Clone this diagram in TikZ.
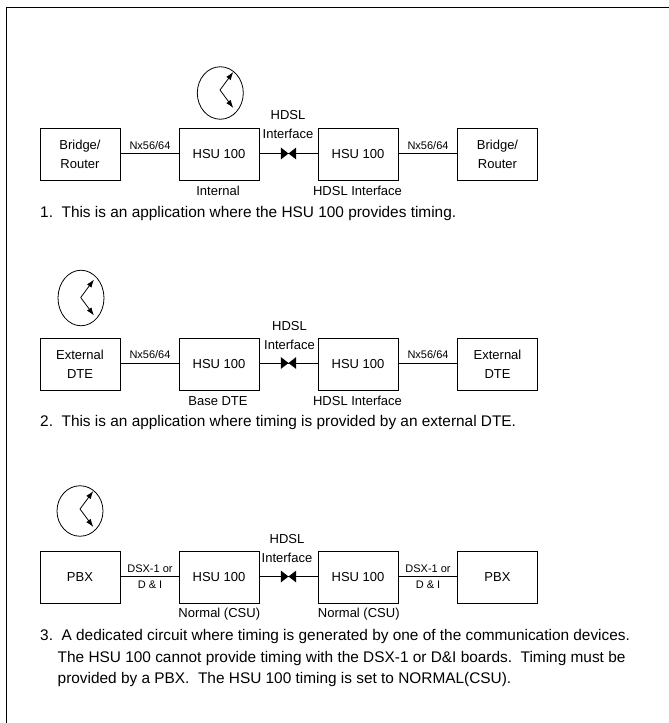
\documentclass[tikz,border=0pt]{standalone}
\usepackage{fontspec}
\setmainfont{Liberation Sans}
\usetikzlibrary{arrows.meta,shapes.geometric}
% ring x, ring y, ring height, pivot x, pivot y, name
\newcommand{\timeclock}[6]{%
  \node[clockring,minimum height=#3pt] (#6) at (#1,#2) {};
  \coordinate (#6p) at (#4,#5);
  \coordinate (#6a) at (#4+13.3,#5-18);
  \coordinate (#6b) at (#4+13.3,#5+18);
  \draw[clockhand] (#6p) -- (#6a);
  \draw[clockhand] (#6p) -- (#6b);
}
% y, left text, right text, name
\newcommand{\hdslrow}[4]{%
  \node[devbox] (#4a) at (80,#1) {#2};
  \node[hsubox] (#4b) at (219,#1) {HSU 100};
  \node[hsubox] (#4c) at (358,#1) {HSU 100};
  \node[devbox] (#4d) at (497.5,#1) {#3};
  \coordinate (#4m) at (288.5,#1-1);
  \draw[conn] (#4a.east |- #4m) -- (#4b.west |- #4m);
  \draw[conn] (#4c.east |- #4m) -- (#4d.west |- #4m);
  \draw[conn] (#4b.east |- #4m) -- (#4c.west |- #4m);
  \fill ([xshift=-7.7pt,yshift=-6pt]#4m) -- (#4m) -- ([xshift=-7.7pt,yshift=6pt]#4m) -- cycle;
  \fill ([xshift=7.7pt,yshift=-6pt]#4m) -- (#4m) -- ([xshift=7.7pt,yshift=6pt]#4m) -- cycle;
}
\begin{document}
\begin{tikzpicture}[x=1pt,y=-1pt,
  devbox/.style={draw,line width=.8pt,minimum width=80pt,minimum height=52pt,inner sep=0pt,align=center,font=\fontsize{13}{19}\selectfont},
  hsubox/.style={devbox},
  lbl/.style={font=\fontsize{13}{19}\selectfont,inner sep=0pt,align=center},
  linklbl/.style={font=\fontsize{11}{15.3}\selectfont,inner sep=0pt,align=center},
  para/.style={font=\fontsize{15.4}{18}\selectfont,inner sep=0pt,anchor=west},
  conn/.style={line width=.8pt},
  clockring/.style={draw,line width=.8pt,ellipse,minimum width=46pt,inner sep=0pt},
  clockhand/.style={line width=.8pt,-{Latex[length=8pt,width=5.5pt]}}]
\useasboundingbox (0,0) rectangle (669,723);
\draw[line width=1pt] (6,723) -- (6,7.5) -- (669,7.5);
% row 1
\timeclock{220.3}{93}{52.5}{220}{90}{ca}
\hdslrow{154.5}{Bridge/\\Router}{Bridge/\\Router}{r}
\node[lbl] (ru) at (218,191) {Internal};
\node[lbl] (rv) at (357.5,191) {HDSL Interface};
\node[linklbl] (rl) at (150,145.5) {Nx56/64};
\node[linklbl] (rr) at (428,145.5) {Nx56/64};
\node[lbl] (rh) at (288,124.5) {HDSL\\Interface};
\node[para] (t1) at (40,214) {1.\ \ This is an application where the HSU 100 provides timing.};
% row 2
\timeclock{81}{298}{55.5}{80.7}{297.5}{cb}
\hdslrow{364}{External\\DTE}{External\\DTE}{s}
\node[lbl] (su) at (218,401) {Base DTE};
\node[lbl] (sv) at (357.5,401) {HDSL Interface};
\node[linklbl] (sl) at (150,355) {Nx56/64};
\node[linklbl] (sr) at (428,355) {Nx56/64};
\node[lbl] (sh) at (289.5,336) {HDSL\\Interface};
\node[para] (t2) at (40,423) {2.\ \ This is an application where timing is provided by an external DTE.};
% row 3
\timeclock{80}{511}{50.5}{80}{509}{cc}
\hdslrow{577.5}{PBX}{PBX}{u}
\node[lbl] (uu) at (219.3,614) {Normal (CSU)};
\node[lbl] (uv) at (358.8,614) {Normal (CSU)};
\node[linklbl] (ul) at (150,576.7) {DSX-1 or\\D \& I};
\node[linklbl] (ur) at (428,576.7) {DSX-1 or\\D \& I};
\node[lbl] (uh) at (287,548.5) {HDSL\\Interface};
\node[para] (t3a) at (40,636.7) {3.\ \ A dedicated circuit where timing is generated by one of the communication devices.};
\node[para] (t3b) at (57.5,658.3) {The HSU 100 cannot provide timing with the DSX-1 or D\&I boards.\ \ Timing must be};
\node[para] (t3c) at (57.5,680) {provided by a PBX.\ \ The HSU 100 timing is set to NORMAL(CSU).};
\end{tikzpicture}
\end{document}
